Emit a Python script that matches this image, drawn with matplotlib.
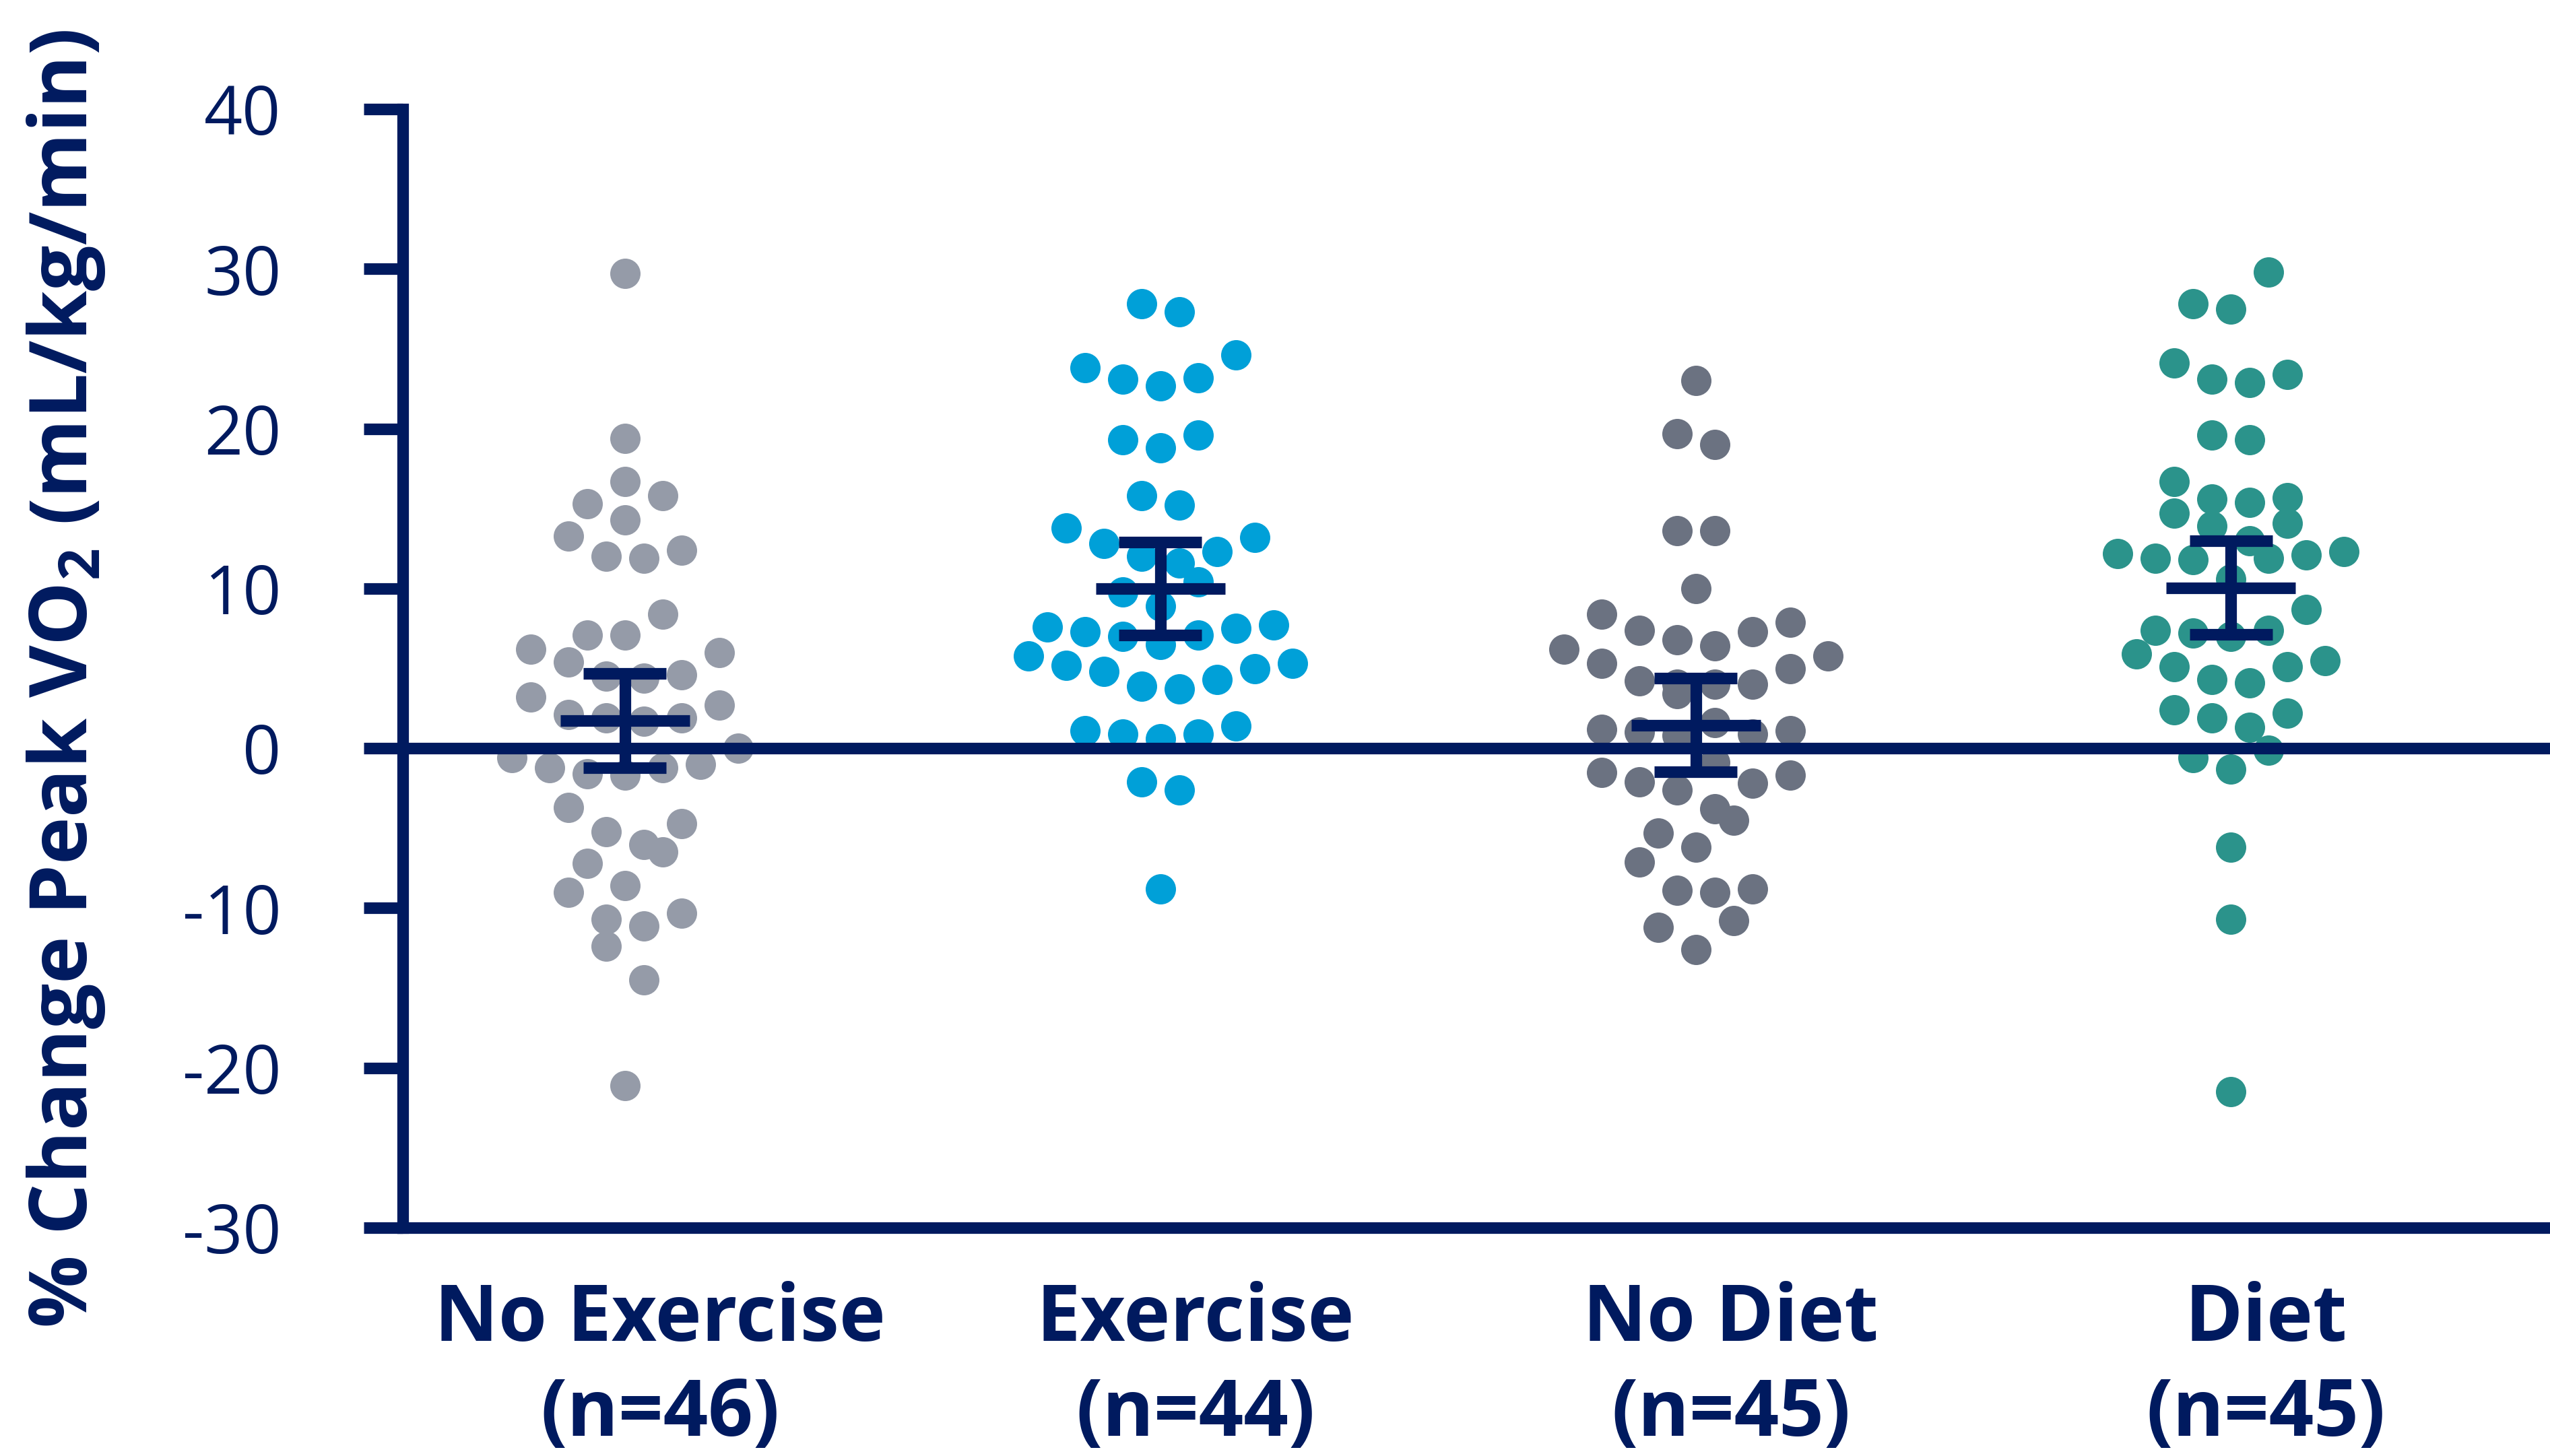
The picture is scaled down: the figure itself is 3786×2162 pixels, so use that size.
import numpy as np
import matplotlib
matplotlib.use("Agg")
import matplotlib.pyplot as plt
from matplotlib.transforms import blended_transform_factory, ScaledTranslation

# ---- data -------------------------------------------------------------
categories = ["No Exercise", "Exercise", "No Diet", "Diet"]
group_n = ["(n=46)", "(n=44)", "(n=45)", "(n=45)"]

no_exercise = [29.7, 19.4, 16.7, 15.3, 15.8, 14.3, 12.4, 11.9, 12.0, 13.3,
               8.4, 7.1, 7.1, 6.0, 6.2, 4.6, 4.4, 4.5, 5.4, 3.2,
               2.7, 2.1, 1.9, 1.7, 1.9, 0.0, -0.6, -1.2, -1.6, -1.7,
               -1.2, -1.0, -3.7, -4.7, -5.2, -6.5, -6.0, -7.2, -8.6, -9.0,
               -10.7, -11.1, -10.3, -12.4, -14.5, -21.1]
exercise = [27.3, 27.8, 23.8, 22.7, 23.2, 23.1, 24.6, 19.3, 18.8, 19.6,
            15.8, 15.2, 13.2, 12.3, 11.6, 12.0, 12.8, 13.8, 9.8, 10.4,
            8.9, 7.7, 7.5, 7.1, 6.5, 7.0, 7.3, 7.6, 5.8, 5.2,
            4.8, 3.9, 3.7, 4.3, 5.0, 5.3, 1.4, 0.9, 0.6, 0.9,
            1.1, -2.1, -2.6, -8.8]
no_diet = [23.0, 19.0, 19.7, 13.6, 13.6, 10.0, 8.4, 7.9, 7.4, 6.8,
           6.2, 6.4, 7.3, 5.0, 5.3, 5.8, 4.0, 4.0, 4.0, 4.2,
           3.4, 1.2, 1.0, 0.9, 0.8, 1.1, 1.6, -0.9, -1.5, -1.7,
           -2.2, -2.6, -2.1, -3.8, -4.5, -5.3, -6.2, -7.1, -8.8, -9.0,
           -8.9, -10.8, -11.2, -12.6]
diet = [29.8, 27.5, 27.8, 24.1, 23.1, 22.9, 23.4, 19.3, 19.6, 16.7,
        15.6, 15.4, 14.7, 15.7, 14.1, 13.9, 13.0, 12.2, 11.9, 11.9,
        11.8, 12.1, 12.3, 10.6, 8.7, 7.2, 7.0, 7.4, 7.4, 5.9,
        5.1, 4.3, 4.1, 5.1, 5.5, 2.2, 1.3, 1.9, 2.4, -0.6,
        -1.3, -0.1, -6.2, -10.7, -21.5]

group_means = [1.75, 10.0, 1.45, 10.05]
group_errors = [2.95, 2.9, 2.92, 2.92]

y_ticks = [-30, -20, -10, 0, 10, 20, 30, 40]

# ---- style ------------------------------------------------------------
NAVY = "#001A5F"
DOT_COLORS = ["#959BA8", "#00A0D8", "#6B7281", "#2B938B"]
DPI = 200
FIG_W_PX, FIG_H_PX = 3787, 2162
LINE_W = 6.2            # pt, axis / zero line / error bars
DOT_DIAM_PX = 45
DOT_STEP_PX = 56        # horizontal spacing of dots within a row
ROW_HEIGHT_PX = 55      # vertical extent of one row of dots

plt.rcParams["font.family"] = ["Open Sans", "DejaVu Sans"]
plt.rcParams["axes.unicode_minus"] = False
plt.rcParams["mathtext.fontset"] = "custom"
plt.rcParams["mathtext.rm"] = "Open Sans"
plt.rcParams["mathtext.bf"] = "Open Sans:bold"

fig = plt.figure(figsize=(FIG_W_PX / DPI, FIG_H_PX / DPI), dpi=DPI)
ax_left, ax_bottom = 598 / FIG_W_PX, 1 - 1823 / FIG_H_PX
ax_top = 1 - 162 / FIG_H_PX
ax = fig.add_axes([ax_left, ax_bottom, 1 - ax_left, ax_top - ax_bottom])

xlim = (-0.415, 3.597)
ylim = (-30, 40)
ax.set_xlim(*xlim)
ax.set_ylim(*ylim)

ax_w_px = (1 - ax_left) * FIG_W_PX
ax_h_px = (ax_top - ax_bottom) * FIG_H_PX
px_per_x = ax_w_px / (xlim[1] - xlim[0])
px_per_y = ax_h_px / (ylim[1] - ylim[0])


def row_offsets(values, row_height, step):
    """Scatter-dot layout: values are grouped into horizontal rows; inside a
    row the lowest values sit at the centre and higher ones fan outwards."""
    values = np.asarray(values, dtype=float)
    order = np.argsort(values, kind="stable")
    rows, current, start = [], [], None
    for idx in order:
        v = values[idx]
        if current and v - start > row_height:
            rows.append(current)
            current = []
        if not current:
            start = v
        current.append(idx)
    if current:
        rows.append(current)
    offsets = np.zeros(len(values))
    for row in rows:
        n = len(row)
        slots = np.arange(n) - (n - 1) / 2
        if n % 2 == 0:
            slots = sorted(slots, key=lambda s: (abs(s), -s))
        else:
            slots = sorted(slots, key=lambda s: (abs(s), s))
        for idx, s in zip(row, slots):
            offsets[idx] = s * step
    return offsets


groups = [no_exercise, exercise, no_diet, diet]
dot_size = (DOT_DIAM_PX / DPI * 72) ** 2
for i, (vals, color) in enumerate(zip(groups, DOT_COLORS)):
    offs = row_offsets(vals, ROW_HEIGHT_PX / px_per_y, DOT_STEP_PX / px_per_x)
    ax.scatter(i + offs, vals, s=dot_size, color=color, linewidths=0, zorder=2)

# zero reference line
ax.axhline(0, color=NAVY, lw=LINE_W, zorder=3)

# mean with error bars
cap_half = 61.5 / px_per_x
mean_half = 96 / px_per_x
xs = np.arange(len(categories))
means = np.array(group_means)
errs = np.array(group_errors)
ax.vlines(xs, means - errs, means + errs, color=NAVY, lw=LINE_W, zorder=4,
          capstyle="butt")
ax.hlines(means + errs, xs - cap_half, xs + cap_half, color=NAVY, lw=LINE_W,
          zorder=4, capstyle="butt")
ax.hlines(means - errs, xs - cap_half, xs + cap_half, color=NAVY, lw=LINE_W,
          zorder=4, capstyle="butt")
ax.hlines(means, xs - mean_half, xs + mean_half, color=NAVY, lw=LINE_W,
          zorder=4, capstyle="butt")

# axes styling
for side in ("top", "right"):
    ax.spines[side].set_visible(False)
for side in ("left", "bottom"):
    ax.spines[side].set_color(NAVY)
    ax.spines[side].set_linewidth(LINE_W)
ax.set_yticks(y_ticks)
ax.set_yticklabels([str(t) for t in y_ticks])
ax.tick_params(axis="y", length=20.9, width=LINE_W, pad=44, labelsize=36,
               colors=NAVY, labelcolor=NAVY)
ax.set_xticks([])

# category labels
trans = blended_transform_factory(ax.transData, fig.transFigure) + \
    ScaledTranslation(52 / DPI, 0, fig.dpi_scale_trans)
for i, (name, n) in enumerate(zip(categories, group_n)):
    ax.text(i, 1 - 1991 / FIG_H_PX, name, transform=trans, ha="center",
            va="baseline", fontsize=42, fontweight="bold", color=NAVY,
            clip_on=False)
    ax.text(i, 1 - 2132 / FIG_H_PX, n, transform=trans, ha="center",
            va="baseline", fontsize=42, fontweight="bold", color=NAVY,
            clip_on=False)

# y-axis title
fig.text(129.5 / FIG_W_PX, 1 - 1008 / FIG_H_PX,
         r"% Change Peak VO$_{\mathbf{2}}$ (mL/kg/min)",
         rotation=90, rotation_mode="anchor", ha="center", va="baseline",
         fontsize=43, fontweight="bold", color=NAVY)

fig.savefig("out.png", dpi=DPI, facecolor="white")
